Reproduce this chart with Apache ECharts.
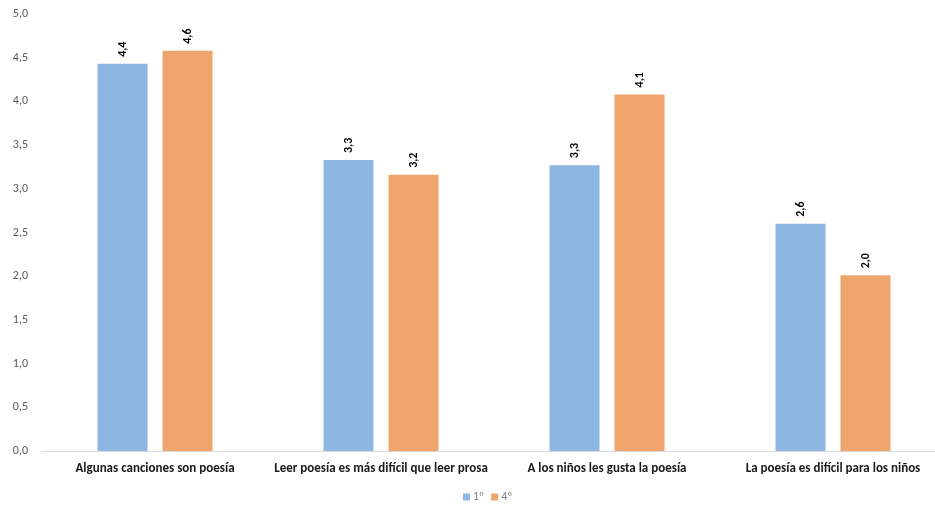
<!DOCTYPE html>
<html>
<head>
<meta charset="utf-8">
<script src="https://cdn.jsdelivr.net/npm/echarts@6/dist/echarts.min.js"></script>
<style>
  html, body { margin: 0; padding: 0; background: #fff; overflow: hidden; }
  #chart { width: 946px; height: 507px; }
</style>
</head>
<body>
<div id="chart"></div>
<script>
// Survey statements and mean agreement scores per school year
const categories = [
  'Algunas canciones son poesía',
  'Leer poesía es más difícil que leer prosa',
  'A los niños les gusta la poesía',
  'La poesía es difícil para los niños'
];
const seriesNames = ['1º', '4º'];
const firstYear = [4.43, 3.33, 3.27, 2.60];
const fourthYear = [4.58, 3.16, 4.08, 2.01];
const yTicks = { min: 0, max: 5, interval: 0.5 };

const fmt = v => v.toFixed(1).replace('.', ',');
const font = 'Calibri, Carlito, "Liberation Sans", "Open Sans", sans-serif';

const barLabel = {
  show: true,
  position: 'top',
  rotate: 90,
  align: 'left',
  verticalAlign: 'middle',
  distance: 7,
  color: '#000',
  fontWeight: 'bold',
  fontSize: 12,
  fontFamily: font,
  formatter: p => fmt(p.value)
};

const chart = echarts.init(document.getElementById('chart'));
chart.setOption({
  animation: false,
  textStyle: { fontFamily: font },
  grid: { left: 42, top: 14, right: 0, bottom: 56, containLabel: false },
  legend: {
    bottom: -1,
    left: 458,
    itemWidth: 7,
    itemHeight: 7,
    itemGap: 7,
    icon: 'rect',
    textStyle: { color: '#7f7f7f', fontSize: 12, fontFamily: font, padding: [0, 0, 0, -2] },
    data: seriesNames
  },
  xAxis: {
    type: 'category',
    data: categories,
    axisLine: { lineStyle: { color: '#d9d9d9' } },
    axisTick: { show: false },
    axisLabel: { color: '#1a1a1a', fontWeight: 'bold', fontSize: 13, margin: 11, fontFamily: font, interval: 0 }
  },
  yAxis: {
    type: 'value',
    min: yTicks.min,
    max: yTicks.max,
    interval: yTicks.interval,
    splitLine: { show: false },
    axisLine: { show: false },
    axisTick: { show: false },
    axisLabel: { color: '#595959', fontSize: 12, margin: 14, fontFamily: font, formatter: v => fmt(v) }
  },
  series: [
    {
      name: seriesNames[0], type: 'bar', data: firstYear,
      barWidth: 50, barGap: '30%',
      itemStyle: { color: '#8DB7E1' },
      label: barLabel
    },
    {
      name: seriesNames[1], type: 'bar', data: fourthYear,
      barWidth: 50, barGap: '30%',
      itemStyle: { color: '#F0A46D' },
      label: barLabel
    }
  ]
});
</script>
</body>
</html>
